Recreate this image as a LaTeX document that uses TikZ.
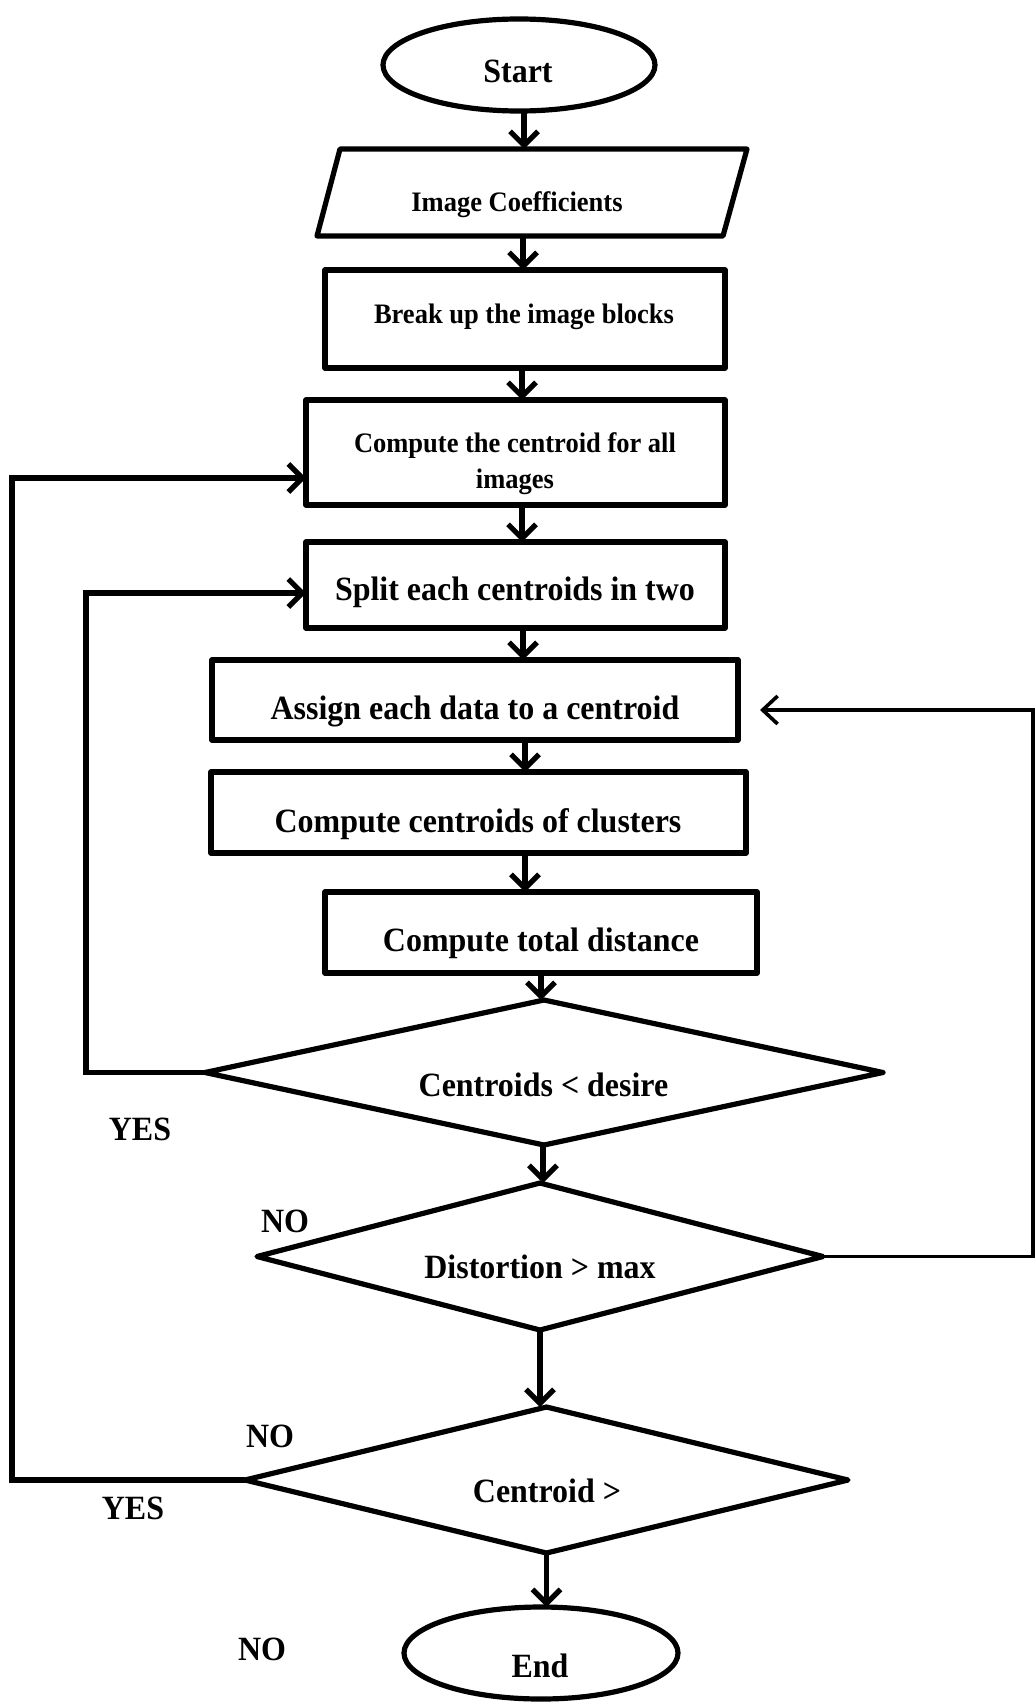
\documentclass[tikz,border=0pt]{standalone}
\usepackage{fontspec}
\setmainfont[FakeStretch=0.94]{Liberation Serif}
\usetikzlibrary{shapes.geometric,arrows.meta}
\begin{document}
\begin{tikzpicture}[x=1pt,y=-1pt,
  shp/.style={draw, line width=5.2pt, line join=round, inner sep=0pt, outer sep=0pt},
  txt/.style={anchor=base, inner sep=0pt, font=\bfseries\fontsize{34}{38}\selectfont},
  smalltxt/.style={anchor=base, inner sep=0pt, font=\bfseries\fontsize{28.2}{32}\selectfont},
  arr/.style={line width=5.2pt, -{Straight Barb[length=14pt,width=28pt]}},
  thinarr/.style={line width=3.6pt, -{Straight Barb[length=15pt,width=28pt]}}]
\useasboundingbox (0,0) rectangle (1035,1704);

% terminals
\node[shp, ellipse, minimum width=272pt, minimum height=92pt] (start) at (519,65) {};
\node[txt] (tstart) at (518,83) {Start};
\node[shp, ellipse, minimum width=274pt, minimum height=92pt] (end) at (541,1653) {};
\node[txt] (tend) at (540,1677) {End};

% input parallelogram
\draw[line width=5.2pt, line join=round] (340,149) -- (747,149) -- (723,236) -- (317,236) -- cycle;
\coordinate (imgin) at (524,149);
\coordinate (imgout) at (523,236);
\node[smalltxt] (timg) at (517,212) {Image Coefficients};

% process boxes
\node[shp, minimum width=400pt, minimum height=98pt] (brk) at (525,319) {};
\node[smalltxt] (tbrk) at (524,323) {Break up the image blocks};
\node[shp, minimum width=419pt, minimum height=105pt] (cmp) at (515.5,452.5) {};
\node[smalltxt] (tcmp1) at (515,452) {Compute the centroid for all};
\node[smalltxt] (tcmp2) at (515,488) {images};
\node[shp, minimum width=419pt, minimum height=86pt] (spl) at (515.5,585) {};
\node[txt] (tspl) at (515,600) {Split each centroids in two};
\node[shp, minimum width=526pt, minimum height=80pt] (asg) at (475,700) {};
\node[txt] (tasg) at (475,719) {Assign each data to a centroid};
\node[shp, minimum width=535pt, minimum height=81pt] (cc) at (478.5,812.5) {};
\node[txt] (tcc) at (478,832) {Compute centroids of clusters};
\node[shp, minimum width=432pt, minimum height=81pt] (tot) at (541,932.5) {};
\node[txt] (ttot) at (541,951) {Compute total distance};

% decisions
\node[shp, diamond, minimum width=678pt, minimum height=145pt] (d1) at (544,1072.5) {};
\node[txt] (td1) at (543.5,1096) {Centroids < desire};
\node[shp, diamond, minimum width=566pt, minimum height=147pt] (d2) at (540,1256.5) {};
\node[txt] (td2) at (540,1278) {Distortion > max};
\node[shp, diamond, minimum width=603pt, minimum height=146pt] (d3) at (546.5,1480) {};
\node[txt] (td3) at (547,1502) {Centroid >};

% branch labels
\node[txt] (yes1) at (140,1140) {YES};
\node[txt] (no1) at (285,1232) {NO};
\node[txt] (no2) at (270,1447) {NO};
\node[txt] (yes2) at (133,1519) {YES};
\node[txt] (no3) at (262,1660) {NO};

% main flow
\draw[arr] ([xshift=5pt]start.south) -- (imgin);
\draw[arr] (imgout) -- ([xshift=-2pt]brk.north);
\draw[arr] ([xshift=-3pt]brk.south) -- ([xshift=6.5pt]cmp.north);
\draw[arr] ([xshift=6.5pt]cmp.south) -- ([xshift=6.5pt]spl.north);
\draw[arr] ([xshift=7.5pt]spl.south) -- ([xshift=48pt]asg.north);
\draw[arr] ([xshift=50pt]asg.south) -- ([xshift=46.5pt]cc.north);
\draw[arr] ([xshift=46.5pt]cc.south) -- ([xshift=-16pt]tot.north);
\draw[arr] (tot.south) -- (tot.south |- d1.north);
\draw[arr] ([xshift=-1pt]d1.south) -- ([xshift=-1pt]d1.south |- d2.north);
\draw[arr] (d2.south) -- (d2.south |- d3.north);
\draw[arr] (d3.south) -- (d3.south |- end.north);

% feedback loops
\draw[arr] (d3.west) -- ++(-233,0) |- ([yshift=-25.5pt]cmp.west);
\draw[arr] (d1.west) -- ++(-119,0) |- ([yshift=-8pt]spl.west);
\draw[thinarr] (d2.east) -- ++(210,0) |- ([xshift=22pt,yshift=-10pt]asg.east);
\end{tikzpicture}
\end{document}
